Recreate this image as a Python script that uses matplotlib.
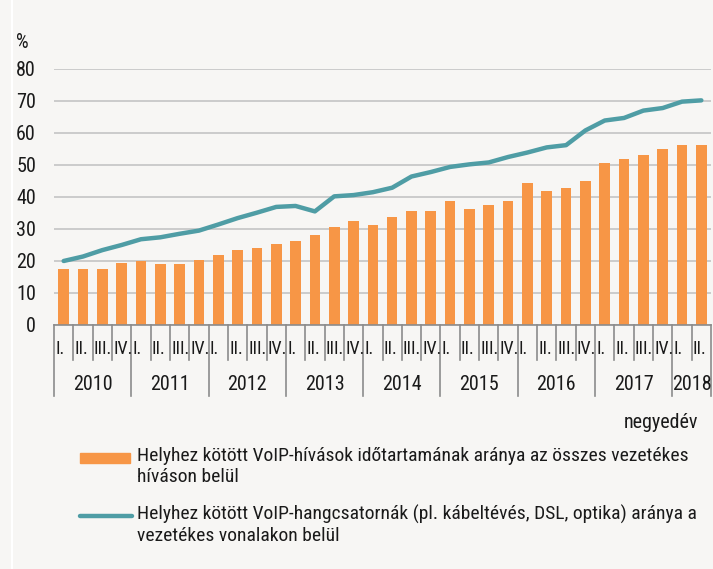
import matplotlib.pyplot as plt
from matplotlib.lines import Line2D
from matplotlib.patches import Rectangle

plt.rcParams['font.family'] = ['Roboto Condensed', 'DejaVu Sans']

years = ['2010', '2011', '2012', '2013', '2014', '2015', '2016', '2017', '2018']
quarters = ['I.', 'II.', 'III.', 'IV.']
quarters_per_year = [4, 4, 4, 4, 4, 4, 4, 4, 2]

# VoIP call duration share (bars)
voip_calls = [17.4, 17.6, 17.6, 19.4, 20.1, 19.2, 19.2, 20.3,
              22.0, 23.3, 24.2, 25.2, 26.1, 28.1, 30.5, 32.6,
              31.2, 33.7, 35.5, 35.7, 38.8, 36.3, 37.5, 38.6,
              44.4, 41.9, 42.9, 45.1, 50.5, 51.8, 53.1, 55.1,
              56.3, 56.2]
# VoIP voice channel share (line)
voip_lines = [20.0, 21.4, 23.4, 25.0, 26.8, 27.4, 28.5, 29.5,
              31.4, 33.4, 35.1, 36.9, 37.2, 35.5, 40.2, 40.6,
              41.5, 42.9, 46.4, 47.8, 49.4, 50.2, 50.8, 52.5,
              53.9, 55.5, 56.2, 60.8, 63.9, 64.7, 67.0, 67.8,
              69.8, 70.2]

label_bar = 'Helyhez kötött VoIP-hívások időtartamának aránya az összes vezetékes\nhíváson belül'
label_line = 'Helyhez kötött VoIP-hangcsatornák (pl. kábeltévés, DSL, optika) aránya a\nvezetékes vonalakon belül'

bg = '#f7f6f4'
orange = '#f79646'
teal = '#4f9da5'
txt_c = '#1a1a1a'
axis_c = '#8c8c8c'
W, H = 713, 569
fs = 14.5
fs_leg = 14

fig = plt.figure(figsize=(W / 100, H / 100), dpi=100, facecolor=bg)
ax = fig.add_axes([54 / W, 1 - 325 / H, (711 - 54) / W, (325 - 69) / H])
ax.set_facecolor(bg)

x = range(len(voip_calls))
ax.bar(x, voip_calls, width=0.55, color=orange, zorder=2)
ax.plot(x, voip_lines, color=teal, lw=3.2, solid_capstyle='round', zorder=3)

ax.set_xlim(-0.5, len(voip_calls) - 0.5)
ax.set_ylim(0, 80)
ax.set_yticks(range(0, 81, 10))
ax.yaxis.grid(True, color='#c4c4c4', lw=1.2)
ax.set_axisbelow(True)
for s in ['top', 'right', 'left']:
    ax.spines[s].set_visible(False)
ax.spines['bottom'].set_color(axis_c)
ax.spines['bottom'].set_linewidth(1.2)
ax.tick_params(axis='y', length=0, pad=13, labelsize=fs, labelcolor=txt_c)
ax.set_xticks([])

# Category axis: quarters and years
tr = ax.get_xaxis_transform()
px = 1 / (325 - 69)
i = 0
for year, nq in zip(years, quarters_per_year):
    ax.plot([i - 0.5, i - 0.5], [0, -71 * px], transform=tr, color=axis_c,
            lw=1.2, clip_on=False)
    for q in range(nq):
        if q > 0:
            ax.plot([i + q - 0.5, i + q - 0.5], [0, -35 * px], transform=tr,
                    color=axis_c, lw=1.2, clip_on=False)
        ax.text(i + q - 0.44, -24 * px, quarters[q], transform=tr, ha='left',
                va='center', fontsize=13, color=txt_c)
    ax.text(i + (nq - 1) / 2, -59 * px, year, transform=tr, ha='center',
            va='center', fontsize=fs, color=txt_c)
    i += nq
ax.plot([i - 0.5, i - 0.5], [0, -71 * px], transform=tr, color=axis_c,
        lw=1.2, clip_on=False)

fig.text(16 / W, 1 - 43 / H, '%', fontsize=fs, va='center', ha='left', color=txt_c)
fig.text(698 / W, 1 - 423 / H, 'negyedév', fontsize=fs, va='center', ha='right', color=txt_c)

# Legend drawn by hand
fig.add_artist(Rectangle((80 / W, 1 - 463 / H), 50 / W, 10 / H,
                         transform=fig.transFigure, color=orange))
fig.text(137 / W, 1 - 447 / H, label_bar, fontsize=fs_leg, va='top', ha='left',
         linespacing=1.2, color=txt_c)
fig.add_artist(Line2D([80 / W, 132 / W], [1 - 516 / H, 1 - 516 / H],
                      transform=fig.transFigure, color=teal, lw=3.2,
                      solid_capstyle='round'))
fig.text(137 / W, 1 - 505 / H, label_line, fontsize=fs_leg, va='top', ha='left',
         linespacing=1.2, color=txt_c)

# faint frame line on the left
fig.add_artist(Line2D([12 / W, 12 / W], [0, 1], transform=fig.transFigure,
                      color='white', lw=1.5))

fig.savefig('out.png', dpi=100, facecolor=bg)
